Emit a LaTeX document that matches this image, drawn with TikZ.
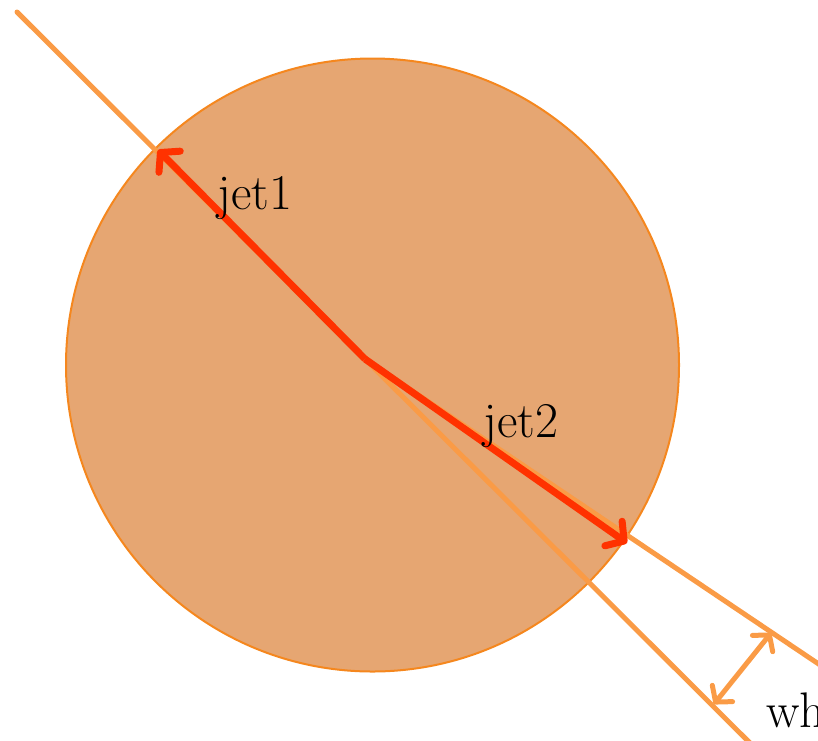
\documentclass[tikz,border=0pt]{standalone}
\usepackage{fontspec}
\usetikzlibrary{arrows.meta}
\definecolor{discfill}{RGB}{230,166,114}
\definecolor{discedge}{RGB}{245,135,30}
\definecolor{axisor}{RGB}{250,155,70}
\definecolor{jetred}{RGB}{255,50,0}
\tikzset{
  axisline/.style={draw=axisor, line width=5pt},
  jetarrow/.style={draw=jetred, line width=7pt, -{Straight Barb[length=13pt,width=30pt,round]}},
  gaparrow/.style={draw=axisor, line width=5pt, {Straight Barb[length=11pt,width=26pt,round]}-{Straight Barb[length=11pt,width=26pt,round]}},
  lbl/.style={font=\fontsize{50}{60}\selectfont, inner sep=0pt, text=black}
}
\begin{document}
\begin{tikzpicture}[x=1pt,y=-1pt]
\useasboundingbox (0,0) rectangle (818,740);
\node[circle, draw=discedge, fill=discfill, line width=2pt, minimum size=613pt, inner sep=0pt] (disc) at (372.5,365) {};
\coordinate (c) at (365,359);
\coordinate (a1) at (17,12);
\coordinate (a2) at (752,745);
\coordinate (b2) at (835,675);
\coordinate (t1) at (158,150);
\coordinate (t2) at (627,543);
\coordinate (d1) at (714,704);
\coordinate (d2) at (771,633);
\draw[axisline, line cap=round] (a1) -- (a2);
\draw[axisline] (c) -- (b2);
\draw[jetarrow] (c) -- (t1);
\draw[jetarrow] (c) -- (t2);
\draw[gaparrow] (d1) -- (d2);
\node[lbl, anchor=base west] (j1) at (217,209) {jet1};
\node[lbl, anchor=base west] (j2) at (483,437) {jet2};
\node[lbl, anchor=base west] (w) at (766,727) {wh};
\end{tikzpicture}
\end{document}
